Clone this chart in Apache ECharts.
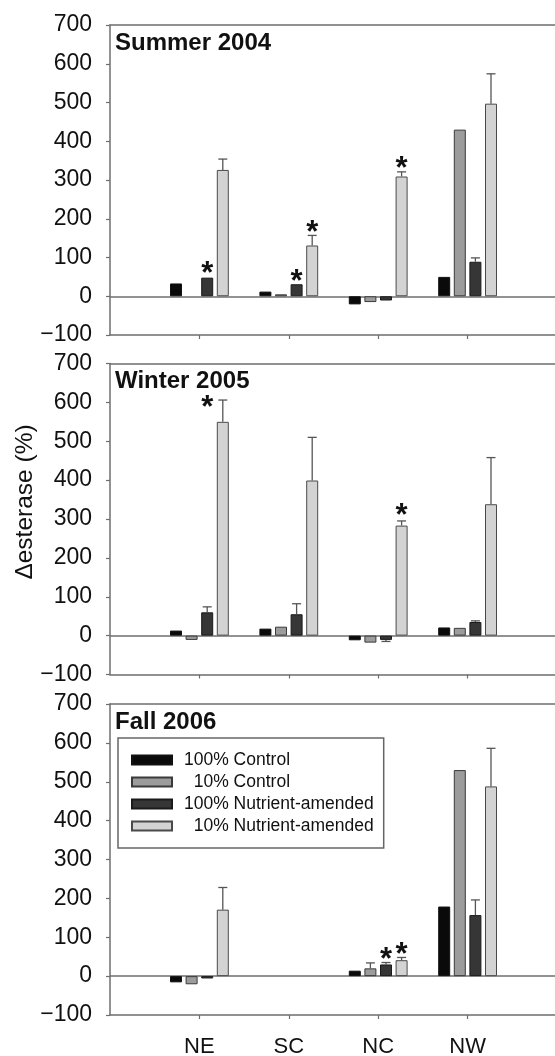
<!DOCTYPE html>
<html>
<head>
<meta charset="utf-8">
<script src="https://cdn.jsdelivr.net/npm/echarts@6/dist/echarts.min.js"></script>
<style>
html,body{margin:0;padding:0;background:#fff;}
#chart{width:555px;height:1056px;}
</style>
</head>
<body>
<div id="chart"></div>
<script>
// ---------- data ----------
const categories = ['', 'NE', 'SC', 'NC', 'NW', ''];
const seriesNames = ['100% Control', '10% Control', '100% Nutrient-amended', '10% Nutrient-amended'];
const panelTitles = ['Summer 2004', 'Winter 2005', 'Fall 2006'];
const yMin = -100, yMax = 700, yStep = 100;

// Summer 2004
const summerC100 = [null, 33, 12, -21, 50, null];
const summerC10  = [null, null, 5, -15, 430, null];
const summerN100 = [null, 48, 31, -11, 89, null];
const summerN10  = [null, 326, 131, 309, 497, null];
const summerC100Err = [null, 0, 0, 0, 0, null];
const summerC10Err  = [null, 0, 0, 0, 0, null];
const summerN100Err = [null, 0, 0, 0, 10, null];
const summerN10Err  = [null, 28, 26, 12, 77, null];
const summerStars = [['NE', 2, 75], ['SC', 2, 54], ['SC', 3, 179], ['NC', 3, 345]];

// Winter 2005
const winterC100 = [null, 13, 18, -12, 21, null];
const winterC10  = [null, -11, 23, -18, 20, null];
const winterN100 = [null, 60, 55, -11, 35, null];
const winterN10  = [null, 550, 399, 283, 338, null];
const winterC100Err = [null, 0, 0, 0, 0, null];
const winterC10Err  = [null, 0, 0, 0, 0, null];
const winterN100Err = [null, 14, 27, 4, 3, null];
const winterN10Err  = [null, 56, 111, 12, 120, null];
const winterStars = [['NE', 2, 603], ['NC', 3, 324]];

// Fall 2006
const fallC100 = [null, -16, null, 14, 179, null];
const fallC10  = [null, -21, null, 20, 530, null];
const fallN100 = [null, -6, null, 30, 157, null];
const fallN10  = [null, 171, null, 41, 488, null];
const fallC100Err = [null, 0, null, 0, 0, null];
const fallC10Err  = [null, 0, null, 14, 0, null];
const fallN100Err = [null, 0, null, 5, 39, null];
const fallN10Err  = [null, 57, null, 7, 98, null];
const fallStars = [['NC', 2, 59], ['NC', 3, 71]];

// ---------- styling ----------
const FONT = '"Liberation Sans", Arial, sans-serif';
const AXIS_COLOR = '#6e6e6e';
const BAR_W = 12;
const BAR_GAP = 0.3;
const barStyles = [
  {color: '#0a0a0a', borderColor: '#111', borderWidth: 1},
  {color: '#9c9c9c', borderColor: '#3a3a3a', borderWidth: 1},
  {color: '#363636', borderColor: '#1a1a1a', borderWidth: 1},
  {color: '#d3d3d3', borderColor: '#4a4a4a', borderWidth: 1}
];

const panels = [
  {vals: [summerC100, summerC10, summerN100, summerN10], errs: [summerC100Err, summerC10Err, summerN100Err, summerN10Err], stars: summerStars},
  {vals: [winterC100, winterC10, winterN100, winterN10], errs: [winterC100Err, winterC10Err, winterN100Err, winterN10Err], stars: winterStars},
  {vals: [fallC100, fallC10, fallN100, fallN10], errs: [fallC100Err, fallC10Err, fallN100Err, fallN10Err], stars: fallStars}
];
const gridTops = [25, 363.5, 704];
const gridHeights = [310, 311, 311];
const GRID_LEFT = 110, GRID_W = 447;

function barOffset(s) { return (s - 1.5) * BAR_W * (1 + BAR_GAP); }

const grids = [], xAxes = [], yAxes = [], series = [], titles = [];
panels.forEach((p, pi) => {
  grids.push({left: GRID_LEFT, top: gridTops[pi], width: GRID_W, height: gridHeights[pi], show: false,
    containLabel: false, outerBoundsMode: 'none'});
  xAxes.push({type: 'category', gridIndex: pi, data: categories, boundaryGap: false,
    axisLine: {onZero: false, lineStyle: {color: AXIS_COLOR, width: 1.5}},
    axisTick: {show: true, length: 4, interval: (idx, val) => val !== '', lineStyle: {color: AXIS_COLOR, width: 1.2}},
    axisLabel: {show: pi === 2, interval: 0, margin: 21, color: '#111', fontSize: 22, fontFamily: FONT},
    splitLine: {show: false}});
  // top frame line
  xAxes.push({type: 'category', gridIndex: pi, data: categories, boundaryGap: false, position: 'top',
    axisLine: {show: true, onZero: false, lineStyle: {color: AXIS_COLOR, width: 1.5}},
    axisTick: {show: false}, axisLabel: {show: false}, splitLine: {show: false}});
  yAxes.push({type: 'value', gridIndex: pi, min: yMin, max: yMax, interval: yStep,
    axisLine: {show: true, lineStyle: {color: AXIS_COLOR, width: 1.5}},
    axisTick: {show: true, length: 4, lineStyle: {color: AXIS_COLOR, width: 1.2}},
    axisLabel: {margin: 18, color: '#111', fontSize: 23, fontFamily: FONT,
      formatter: v => v < 0 ? '\u2212' + (-v) : String(v)},
    splitLine: {show: false}});
  titles.push({text: panelTitles[pi], left: 115, top: gridTops[pi] + 6, padding: 0,
    textStyle: {fontSize: 24, fontWeight: 'bold', color: '#111', fontFamily: FONT}});

  p.vals.forEach((vals, s) => {
    const ser = {name: seriesNames[s], type: 'bar', xAxisIndex: pi * 2, yAxisIndex: pi,
      data: vals, barWidth: BAR_W, barGap: (BAR_GAP * 100) + '%', itemStyle: barStyles[s],
      emphasis: {disabled: true}, z: 3};
    if (s === 0) {
      ser.markLine = {silent: true, symbol: 'none', label: {show: false},
        lineStyle: {color: AXIS_COLOR, width: 1.5, type: 'solid'}, data: [{yAxis: 0}], z: 2};
    }
    series.push(ser);
  });

  // error bars
  const errData = [];
  p.errs.forEach((errs, s) => {
    errs.forEach((e, i) => {
      if (e && p.vals[s][i] != null) errData.push([i, p.vals[s][i], e, s]);
    });
  });
  series.push({type: 'custom', xAxisIndex: pi * 2, yAxisIndex: pi, data: errData, z: 4, silent: true,
    renderItem: (params, api) => {
      const i = api.value(0), v = api.value(1), e = api.value(2), s = api.value(3);
      const sign = v < 0 ? -1 : 1;
      const p0 = api.coord([i, v]);
      const p1 = api.coord([i, v + sign * e]);
      const x = p0[0] + barOffset(s);
      const st = {stroke: '#555', lineWidth: 1.3};
      return {type: 'group', children: [
        {type: 'line', shape: {x1: x, y1: p0[1], x2: x, y2: p1[1]}, style: st},
        {type: 'line', shape: {x1: x - 4.5, y1: p1[1], x2: x + 4.5, y2: p1[1]}, style: st}
      ]};
    }});

  // significance stars
  const starData = p.stars.map(st => [categories.indexOf(st[0]), st[2], st[1]]);
  series.push({type: 'custom', xAxisIndex: pi * 2, yAxisIndex: pi, data: starData, z: 5, silent: true,
    renderItem: (params, api) => {
      const pt = api.coord([api.value(0), api.value(1)]);
      return {type: 'text', x: pt[0] + barOffset(api.value(2)), y: pt[1] + 7,
        style: {text: '*', fill: '#111', font: 'bold 31px ' + FONT, align: 'center', verticalAlign: 'middle'}};
    }});
});

const chart = echarts.init(document.getElementById('chart'), null, {renderer: 'canvas'});
chart.setOption({
  animation: false,
  backgroundColor: '#fff',
  title: titles,
  grid: grids,
  xAxis: xAxes,
  yAxis: yAxes,
  legend: {
    data: seriesNames, orient: 'vertical', left: 118, top: 738,
    padding: [13, 10, 13, 13], itemGap: 4, itemWidth: 40, itemHeight: 9, icon: 'rect',
    borderColor: '#666', borderWidth: 1.5, selectedMode: false,
    formatter: n => n.indexOf('10%') === 0 ? '  ' + n : n,
    textStyle: {fontSize: 17.5, lineHeight: 16, color: '#111', fontFamily: FONT, padding: [0, 0, 0, 7]}
  },
  graphic: [{type: 'text', x: 25, y: 502, rotation: Math.PI / 2,
    style: {text: '\u0394esterase (%)', fill: '#111', font: '24.5px ' + FONT, align: 'center', verticalAlign: 'middle'}}],
  series: series
});
</script>
</body>
</html>
